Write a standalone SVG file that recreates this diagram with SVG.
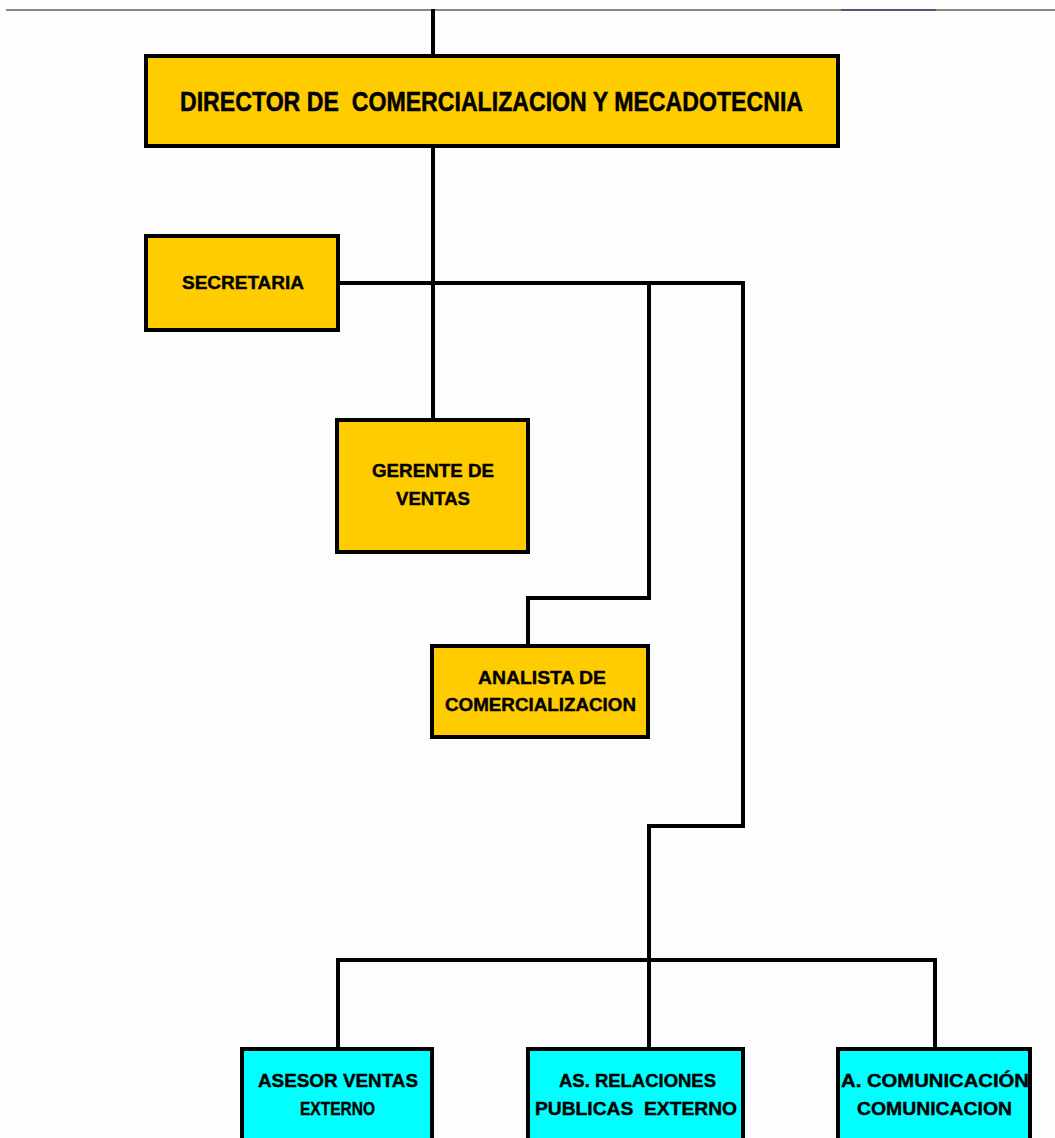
<svg xmlns="http://www.w3.org/2000/svg" width="1055" height="1138" viewBox="0 0 1055 1138">
  <style>
    .box { stroke: #000; stroke-width: 4; }
    .gold { fill: #FFCC00; }
    .cyan { fill: #00FFFF; }
    .wire { fill: none; stroke: #000; stroke-width: 4; stroke-linejoin: miter; stroke-linecap: square; }
    .lbl { font-family: "Liberation Sans", Arial, sans-serif; font-weight: bold; font-size: 19px; fill: #000; stroke: #000; stroke-width: 0.4; white-space: pre; }
    .big { font-size: 28px; stroke-width: 0.5; }
  </style>
  <rect x="0" y="0" width="1055" height="1138" fill="#FDFDFD"/>
  <!-- top rule -->
  <line x1="6" y1="10" x2="1055" y2="10" stroke="#8A8A80" stroke-width="2"/>
  <line x1="841" y1="10" x2="936" y2="10" stroke="#55557A" stroke-width="2"/>

  <g id="connectors">
    <line class="wire" x1="433" y1="11" x2="433" y2="55"/>
    <line class="wire" x1="433" y1="146" x2="433" y2="419"/>
    <polyline class="wire" points="338,283 743,283 743,826 649,826 649,1048"/>
    <polyline class="wire" points="649,283 649,598 528,598 528,645"/>
    <polyline class="wire" points="338,1048 338,960 935,960 935,1048"/>
  </g>

  <g id="director">
    <rect class="box gold" x="146" y="56" width="692" height="90"/>
    <text class="lbl big" x="180" y="111" textLength="623" lengthAdjust="spacingAndGlyphs" xml:space="preserve">DIRECTOR DE  COMERCIALIZACION Y MECADOTECNIA</text>
  </g>

  <g id="secretaria">
    <rect class="box gold" x="146" y="236" width="192" height="94"/>
    <text class="lbl" x="182" y="289" textLength="122" lengthAdjust="spacingAndGlyphs">SECRETARIA</text>
  </g>

  <g id="gerente">
    <rect class="box gold" x="337" y="420" width="191" height="132"/>
    <text class="lbl" x="372" y="477" textLength="122" lengthAdjust="spacingAndGlyphs">GERENTE DE</text>
    <text class="lbl" x="396" y="505" textLength="74" lengthAdjust="spacingAndGlyphs">VENTAS</text>
  </g>

  <g id="analista">
    <rect class="box gold" x="432" y="646" width="216" height="91"/>
    <text class="lbl" x="478" y="684" textLength="128" lengthAdjust="spacingAndGlyphs">ANALISTA DE</text>
    <text class="lbl" x="445" y="711" textLength="191" lengthAdjust="spacingAndGlyphs">COMERCIALIZACION</text>
  </g>

  <g id="asesor-ventas">
    <rect class="box cyan" x="242" y="1049" width="190" height="95"/>
    <text class="lbl" x="258" y="1087" textLength="160" lengthAdjust="spacingAndGlyphs">ASESOR VENTAS</text>
    <text class="lbl" x="300" y="1115" textLength="75" lengthAdjust="spacingAndGlyphs">EXTERNO</text>
  </g>

  <g id="relaciones-publicas">
    <rect class="box cyan" x="528" y="1049" width="215" height="95"/>
    <text class="lbl" x="559" y="1087" textLength="157" lengthAdjust="spacingAndGlyphs">AS. RELACIONES</text>
    <text class="lbl" x="535" y="1115" textLength="202" lengthAdjust="spacingAndGlyphs" xml:space="preserve">PUBLICAS  EXTERNO</text>
  </g>

  <g id="comunicacion">
    <rect class="box cyan" x="838" y="1049" width="192" height="95"/>
    <text class="lbl" x="841" y="1087" textLength="188" lengthAdjust="spacingAndGlyphs">A. COMUNICACIÓN</text>
    <text class="lbl" x="857" y="1115" textLength="155" lengthAdjust="spacingAndGlyphs">COMUNICACION</text>
  </g>
</svg>
